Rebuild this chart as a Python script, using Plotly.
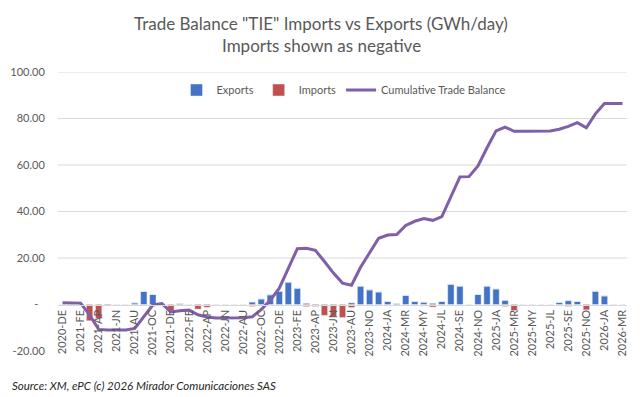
import plotly.graph_objects as go

months = ["2020-DE","2021-JA","2021-FE","2021-MR","2021-AP","2021-MY","2021-JN","2021-JL","2021-AU","2021-SE",
          "2021-OC","2021-NO","2021-DE","2022-JA","2022-FE","2022-MR","2022-AP","2022-MY","2022-JN","2022-JL",
          "2022-AU","2022-SE","2022-OC","2022-NO","2022-DE","2023-JA","2023-FE","2023-MR","2023-AP","2023-MY",
          "2023-JN","2023-JL","2023-AU","2023-SE","2023-NO","2023-DE","2024-JA","2024-FE","2024-MR","2024-AP",
          "2024-MY","2024-JN","2024-JL","2024-AU","2024-SE","2024-OC","2024-NO","2024-DE","2025-JA","2025-FE",
          "2025-MR","2025-AP","2025-MY","2025-JN","2025-JL","2025-AU","2025-SE","2025-OC","2025-NO","2025-DE",
          "2026-JA","2026-FE","2026-MR"]

exports = [0, 0, 0, 0, 0, 0, 0, 0, 0.7, 5.6,
           4.3, 0, 0, 0.4, 0, 0, 0, 0, 0, 0,
           0, 1.0, 2.4, 4.2, 5.7, 9.6, 7.0, 0.5, 0, 0,
           0, 0, 0.7, 7.9, 6.3, 5.4, 1.3, 0.4, 3.9, 1.3,
           1.0, 0.5, 1.3, 8.7, 7.9, 0, 4.3, 7.9, 6.7, 1.7,
           0, 0, 0, 0, 0, 0.9, 1.6, 1.3, 0, 5.7,
           3.7, 0, 0]

imports = [0, 0, 0, -7.0, -6.0, -0.5, 0, 0, 0, 0,
           0, 0, -2.6, 0, 0, -2.0, -1.2, 0, 0, 0,
           0, -0.8, 0, 0, 0, 0, 0, -0.9, -0.8, -4.7,
           -5.2, -5.6, -1.3, 0, 0, 0, 0, 0, 0, 0,
           0, -1.1, 0, 0, 0, 0, 0, 0, 0, -0.8,
           -2.6, 0, 0, 0, 0, 0, -0.8, 0, -2.3, 0,
           0, 0, 0]

cumulative = [0.8, 0.8, 0.6, -4.5, -10.7, -11.0, -11.0, -11.0, -10.3, -5.0,
              -0.2, 0.4, -3.2, -2.7, -2.4, -4.4, -5.4, -5.8, -5.8, -5.8,
              -5.7, -5.3, -2.2, 1.8, 7.0, 15.5, 24.0, 24.2, 23.3, 18.5,
              13.5, 9.2, 8.3, 16.0, 22.4, 28.5, 29.9, 30.1, 34.0, 35.8,
              37.0, 36.2, 37.8, 46.6, 54.9, 55.0, 59.6, 67.4, 74.7, 76.3,
              74.5, 74.5, 74.5, 74.5, 74.6, 75.4, 76.6, 78.2, 76.0, 82.0,
              86.4, 86.4, 86.4]

y_ticks = [-20, 0, 20, 40, 60, 80, 100]
y_ticktext = ["-20.00", "-\u2007", "20.00", "40.00", "60.00", "80.00", "100.00"]
grid_values = [20, 40, 60, 80, 100]

GREY = "#595959"
FONT = "Lato"
PLOT_TOP, PLOT_BOTTOM = 72, 351
PH = PLOT_BOTTOM - PLOT_TOP


def py(pix):
    return (PLOT_BOTTOM - pix) / PH


fig = go.Figure()
fig.add_trace(go.Bar(x=months, y=exports, name="Exports", marker_color="#4472C4"))
fig.add_trace(go.Bar(x=months, y=imports, name="Imports", marker_color="#C0504D"))
fig.add_trace(go.Scatter(x=months, y=cumulative, name="Cumulative Trade Balance", mode="lines",
                         line=dict(color="#7F5FA8", width=3)))

shapes = [dict(type="line", xref="paper", x0=0, x1=1, yref="y", y0=v, y1=v,
               line=dict(color="#d9d9d9", width=1), layer="below") for v in grid_values]

title_font = dict(family=FONT, size=17, color=GREY)
annotations = [
    dict(text='Trade Balance "TIE" Imports vs Exports (GWh/day)', xref="paper", yref="paper",
         x=(321 - 58) / 569, y=py(24), xanchor="center", yanchor="middle", showarrow=False, font=title_font),
    dict(text="Imports shown as negative", xref="paper", yref="paper",
         x=(321 - 58) / 569, y=py(45), xanchor="center", yanchor="middle", showarrow=False, font=title_font),
    dict(text="<i>Source: XM, ePC (c) 2026 Mirador Comunicaciones SAS</i>",
         xref="paper", yref="paper", x=-48 / 569, y=py(385), xanchor="left", yanchor="middle",
         showarrow=False, font=dict(family=FONT, size=11.5, color="#262626")),
]

fig.update_layout(
    width=642, height=397,
    margin=dict(l=58, r=15, t=PLOT_TOP, b=397 - PLOT_BOTTOM, autoexpand=False),
    paper_bgcolor="white", plot_bgcolor="white",
    barmode="relative", bargap=0.3,
    font=dict(family=FONT, color=GREY, size=11),
    legend=dict(orientation="h", x=(344 - 58) / 569, xanchor="center", y=py(90), yanchor="middle",
                bgcolor="rgba(0,0,0,0)", font=dict(size=11, color=GREY), traceorder="normal"),
    shapes=shapes,
    annotations=annotations,
)
fig.update_xaxes(type="category", tickmode="array", tickvals=months[::2], ticktext=months[::2],
                 tickangle=-90, tickfont=dict(size=11, color=GREY), automargin=False,
                 anchor="free", position=1/6, showline=True, linecolor="#d9d9d9", linewidth=1,
                 showgrid=False, ticks="", range=[-0.5, len(months) - 0.5])
fig.update_yaxes(range=[-20, 100], tickvals=y_ticks, ticktext=y_ticktext, showgrid=False,
                 zeroline=False, showline=False, tickfont=dict(size=11, color=GREY), automargin=False,
                 ticks="outside", ticklen=10, tickcolor="rgba(0,0,0,0)")

fig.write_html("out.html", config={"displayModeBar": False},
               post_script="document.body.style.margin='0';")
